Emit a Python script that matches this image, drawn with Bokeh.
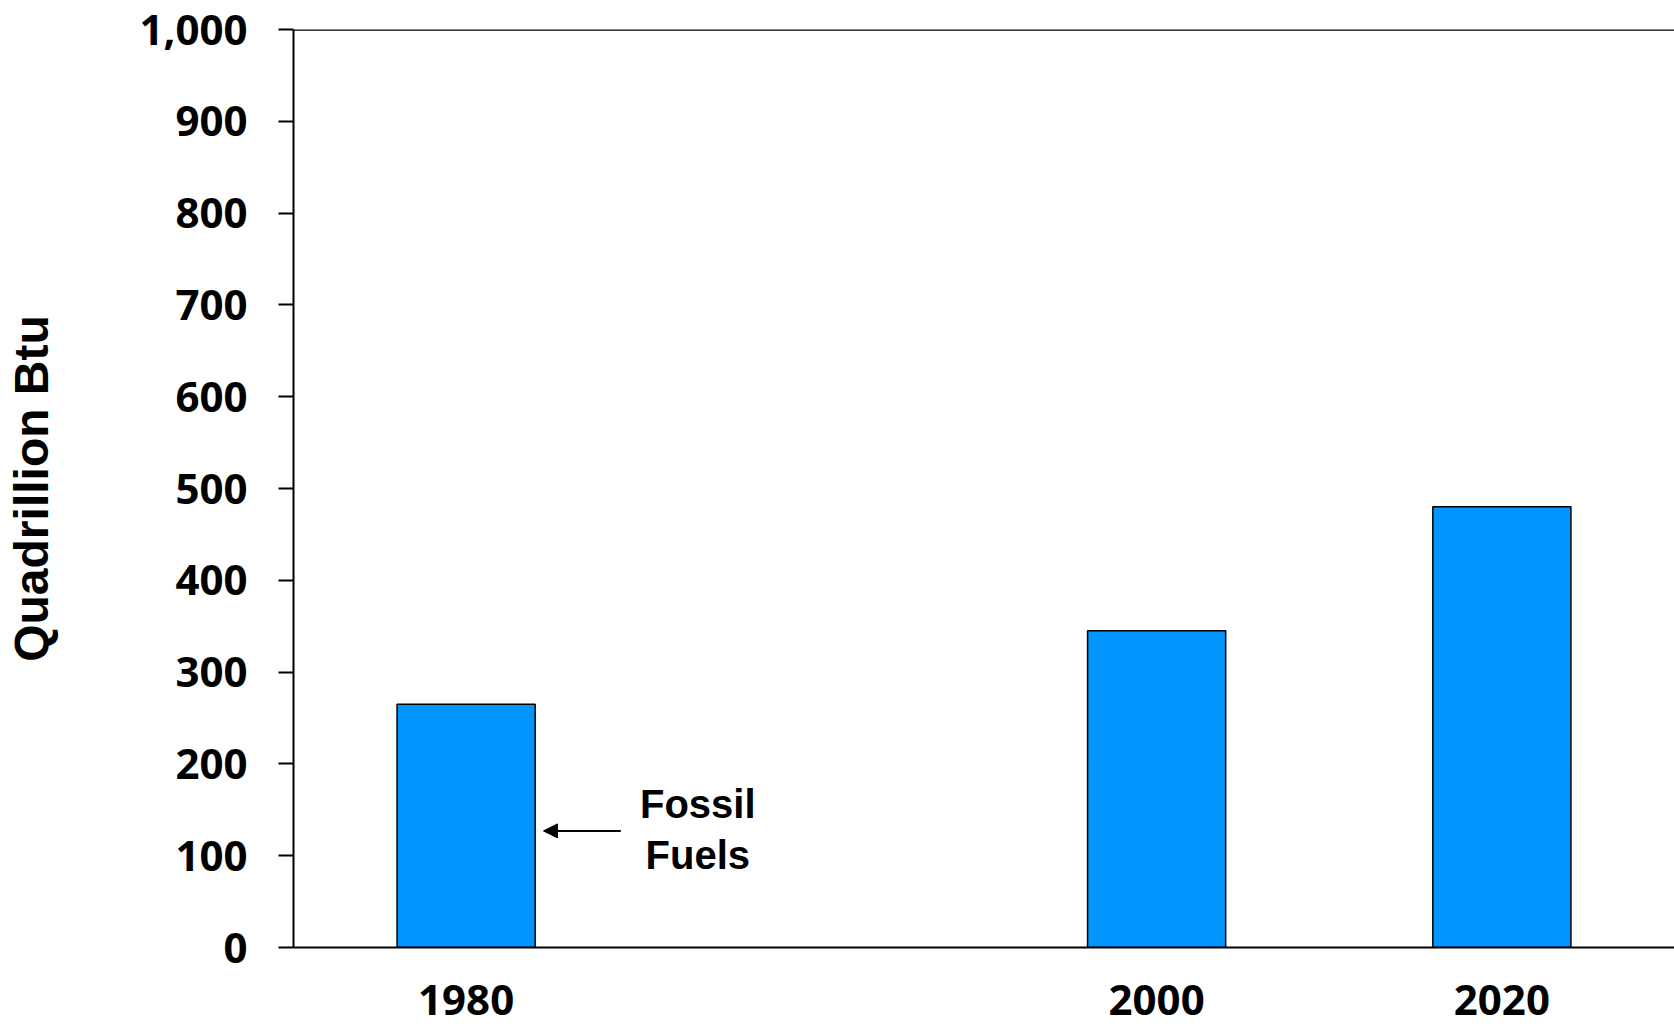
from bokeh.plotting import figure
from bokeh.models import (FactorRange, Range1d, NumeralTickFormatter, FixedTicker,
                          Span, Arrow, NormalHead, Label)
from bokeh.embed import file_html
from bokeh.resources import INLINE

# ---- data ----
slots = ["1980", " ", "2000", "2020"]          # category slots (one empty)
years = ["1980", "2000", "2020"]
fossil_fuels = [265, 345, 480]                  # Quadrillion Btu
y_ticks = [0, 100, 200, 300, 400, 500, 600, 700, 800, 900, 1000]

TICK_FONT = "Open Sans"
TEXT_FONT = "Liberation Sans"

p = figure(width=1674, height=1030,
           x_range=FactorRange(factors=slots),
           y_range=Range1d(0, 1000),
           output_backend="svg", toolbar_location=None,
           min_border_left=293, min_border_right=0,
           min_border_top=29, min_border_bottom=83)

p.vbar(x=years, top=fossil_fuels, width=0.4,
       fill_color="#0095FF", line_color="black", line_width=1.5)

p.outline_line_color = None
p.xgrid.visible = False
p.ygrid.visible = False

# top border line
p.add_layout(Span(location=1000, dimension="width", line_color="black", line_width=2.5))

# y axis
ya = p.yaxis[0]
ya.ticker = FixedTicker(ticks=y_ticks)
ya.formatter = NumeralTickFormatter(format="0,0")
ya.major_label_text_font = TICK_FONT
ya.major_label_text_font_style = "bold"
ya.major_label_text_font_size = "42px"
ya.major_label_text_color = "black"
ya.major_label_standoff = 31
ya.major_tick_out = 15
ya.major_tick_in = 0
ya.minor_tick_out = 0
ya.minor_tick_in = 0
ya.major_tick_line_width = 2
ya.axis_line_width = 2
ya.axis_line_color = "black"
ya.major_tick_line_color = "black"
ya.axis_label = "Quadrillion Btu"
ya.axis_label_text_font = TEXT_FONT
ya.axis_label_text_font_style = "bold"
ya.axis_label_text_font_size = "48px"
ya.axis_label_text_color = "black"
ya.axis_label_standoff = 78

# x axis
xa = p.xaxis[0]
xa.major_label_text_font = TICK_FONT
xa.major_label_text_font_style = "bold"
xa.major_label_text_font_size = "42px"
xa.major_label_text_color = "black"
xa.major_label_standoff = 22
xa.major_tick_out = 0
xa.major_tick_in = 0
xa.minor_tick_out = 0
xa.axis_line_width = 2
xa.axis_line_color = "black"

# annotation
p.add_layout(Arrow(x_start=0.948, y_start=127, x_end=0.724, y_end=127,
                   line_color="black", line_width=2,
                   end=NormalHead(size=14, fill_color="black", line_color="black")))
for txt, yv in (("Fossil", 156), ("Fuels", 101)):
    p.add_layout(Label(x=1.171, y=yv, text=txt, text_align="center",
                       text_baseline="alphabetic", text_font=TEXT_FONT,
                       text_font_style="bold", text_font_size="40px",
                       text_color="black"))

open("out.html", "w").write(file_html(p, INLINE))
